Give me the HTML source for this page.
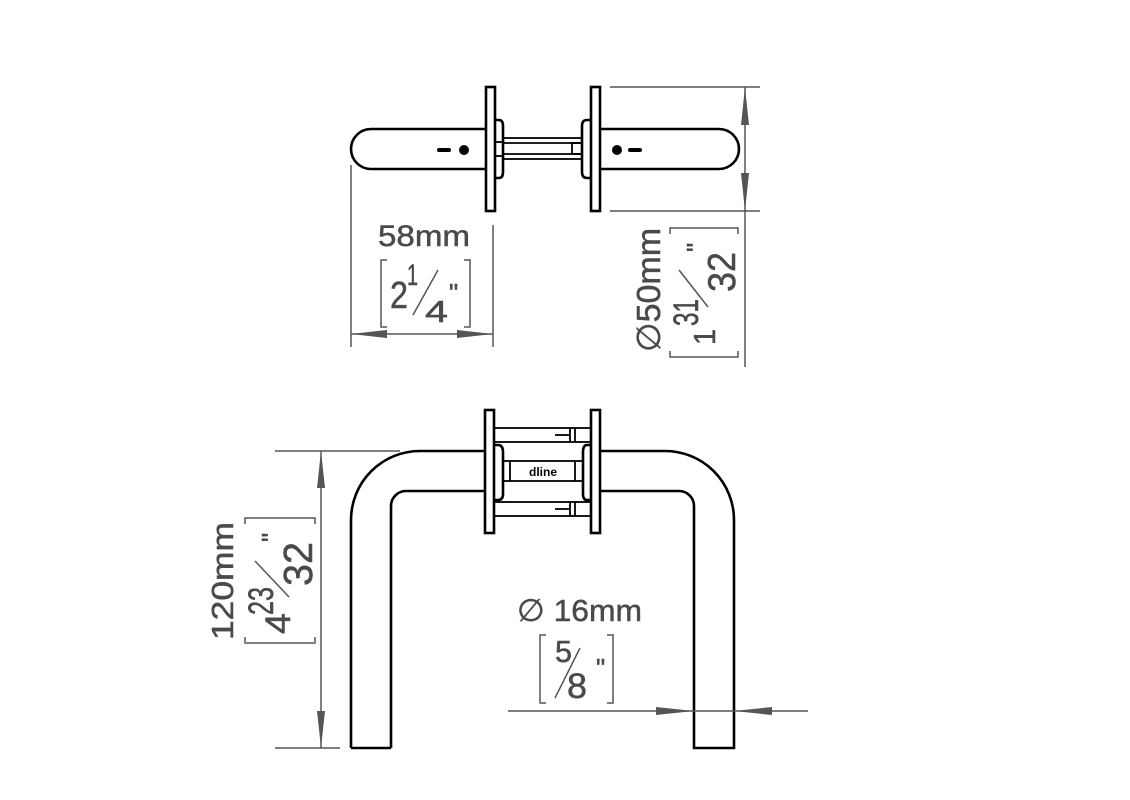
<!DOCTYPE html>
<html><head><style>
html,body{margin:0;padding:0;background:#fff;width:1130px;height:800px;overflow:hidden}
svg text{font-family:"Liberation Sans",sans-serif;fill:#4a4a4a;stroke:#4a4a4a;stroke-width:0.5}
</style></head><body>
<svg width="1130" height="800" viewBox="0 0 1130 800" xmlns="http://www.w3.org/2000/svg">
<g fill="none" stroke="#000" stroke-width="2.6">
<path d="M487,129 H371 A20,20 0 0 0 371,169 H487"/>
<path d="M599,129 H719 A20,20 0 0 1 719,169 H599"/>
<rect x="486" y="87" width="9" height="124"/>
<rect x="591" y="87" width="9" height="124"/>
<path d="M495,120 H499 Q503,120 503,126 V172 Q503,178 499,178 H495"/>
<path d="M591,120 H587 Q582,120 582,126 V172 Q582,178 587,178 H591"/>
<g stroke-width="1.8">
<rect x="503" y="138" width="79" height="21"/>
<line x1="503" y1="143" x2="582" y2="143"/>
<line x1="503" y1="154" x2="582" y2="154"/>
<rect x="572" y="143" width="10" height="11"/>
<rect x="495" y="142" width="8" height="14"/>
</g>
<path d="M351,748 V520 A69,69 0 0 1 420,451 H485"/>
<path d="M391,748 V506 A15,15 0 0 1 406,491 H485"/>
<path d="M600,451 H665 A69,69 0 0 1 734,520 V748 H694 V506 A15,15 0 0 0 679,491 H600"/>
<path d="M351,748 H391"/>
<rect x="485" y="410" width="9" height="123"/>
<rect x="591" y="410" width="9" height="123"/>
<path d="M494,445 H498 Q503,445 503,452 V494 Q503,500 498,500 H494"/>
<path d="M591,445 H587 Q583,445 583,452 V494 Q583,500 587,500 H591"/>
<g stroke-width="1.8">
<rect x="494" y="428" width="97" height="14"/>
<rect x="494" y="502" width="97" height="14"/>
<rect x="503" y="461" width="80" height="20"/>
<line x1="510" y1="461" x2="510" y2="481"/>
<line x1="575" y1="461" x2="575" y2="481"/>
<line x1="555" y1="435" x2="570" y2="435"/>
<line x1="555" y1="509" x2="570" y2="509"/>
<line x1="570" y1="428" x2="570" y2="442"/><line x1="575" y1="428" x2="575" y2="442"/>
<line x1="570" y1="502" x2="570" y2="516"/><line x1="575" y1="502" x2="575" y2="516"/>
</g>
</g>
<circle cx="464" cy="150" r="5" fill="#000"/>
<rect x="437" y="148" width="14" height="4" rx="2" fill="#000"/>
<circle cx="617" cy="150" r="5" fill="#000"/>
<rect x="628" y="148" width="14" height="4" rx="2" fill="#000"/>
<text x="543" y="476" font-size="12" font-weight="bold" text-anchor="middle" style="fill:#000;stroke:none">dline</text>

<g stroke="#555" stroke-width="1.5" fill="none">
<line x1="351" y1="165" x2="351" y2="347"/>
<line x1="493" y1="225" x2="493" y2="347"/>
<line x1="351" y1="334" x2="493" y2="334"/>
<path d="M387,260 H381 V327 H387"/>
<path d="M464,260 H470 V327 H464"/>
<line x1="413" y1="315" x2="438" y2="270"/>
<line x1="610" y1="87" x2="760" y2="87"/>
<line x1="610" y1="211" x2="760" y2="211"/>
<line x1="745" y1="87" x2="745" y2="367"/>
<path d="M670,234 V228 H738 V234"/>
<path d="M670,351 V357 H738 V351"/>
<line x1="679" y1="270" x2="708" y2="307"/>
<line x1="275" y1="451" x2="400" y2="451"/>
<line x1="275" y1="748" x2="340" y2="748"/>
<line x1="321" y1="451" x2="321" y2="748"/>
<path d="M245,524 V518 H315 V524"/>
<path d="M245,637 V643 H315 V637"/>
<line x1="255" y1="561" x2="289" y2="597"/>
<line x1="508" y1="711" x2="808" y2="711"/>
<path d="M546,635 H540 V703 H546"/>
<path d="M607,635 H613 V703 H607"/>
<line x1="555" y1="698" x2="580" y2="648"/>
</g>
<g fill="#555">
<polygon points="351,334 387,330 387,338"/>
<polygon points="493,334 457,330 457,338"/>
<polygon points="745,87 741,125 749,125"/>
<polygon points="745,211 741,173 749,173"/>
<polygon points="321,451 317,488 325,488"/>
<polygon points="321,748 317,711 325,711"/>
<polygon points="694,711 656,707 656,715"/>
<polygon points="734,711 772,707 772,715"/>
</g>

<text x="378" y="246" font-size="30" textLength="92" lengthAdjust="spacingAndGlyphs">58mm</text>
<text x="390" y="308" font-size="38" textLength="18" lengthAdjust="spacingAndGlyphs">2</text>
<text x="407" y="285" font-size="30" textLength="11" lengthAdjust="spacingAndGlyphs">1</text>
<text x="425" y="322" font-size="31" textLength="23" lengthAdjust="spacingAndGlyphs">4</text>
<text x="449" y="302" font-size="26">"</text>

<g transform="translate(660,352) rotate(-90)"><text font-size="33" textLength="124" lengthAdjust="spacingAndGlyphs">∅50mm</text></g>
<g transform="translate(715,345) rotate(-90)"><text font-size="31" textLength="16" lengthAdjust="spacingAndGlyphs">1</text></g>
<g transform="translate(698,326) rotate(-90)"><text font-size="35" textLength="27" lengthAdjust="spacingAndGlyphs">31</text></g>
<g transform="translate(735,292) rotate(-90)"><text font-size="39" textLength="40" lengthAdjust="spacingAndGlyphs">32</text></g>
<g transform="translate(705,252) rotate(-90)"><text font-size="26">"</text></g>

<g transform="translate(233,640) rotate(-90)"><text font-size="31" textLength="118" lengthAdjust="spacingAndGlyphs">120mm</text></g>
<g transform="translate(290,634) rotate(-90)"><text font-size="35" textLength="21" lengthAdjust="spacingAndGlyphs">4</text></g>
<g transform="translate(273,615) rotate(-90)"><text font-size="35" textLength="28" lengthAdjust="spacingAndGlyphs">23</text></g>
<g transform="translate(312,586) rotate(-90)"><text font-size="41" textLength="44" lengthAdjust="spacingAndGlyphs">32</text></g>
<g transform="translate(280,542) rotate(-90)"><text font-size="26">"</text></g>

<text x="517" y="621" font-size="31" textLength="125" lengthAdjust="spacingAndGlyphs">∅ 16mm</text>
<text x="555" y="662" font-size="31" textLength="17" lengthAdjust="spacingAndGlyphs">5</text>
<text x="567" y="698" font-size="35" textLength="20" lengthAdjust="spacingAndGlyphs">8</text>
<text x="596" y="677" font-size="26">"</text>
</svg>
</body></html>
